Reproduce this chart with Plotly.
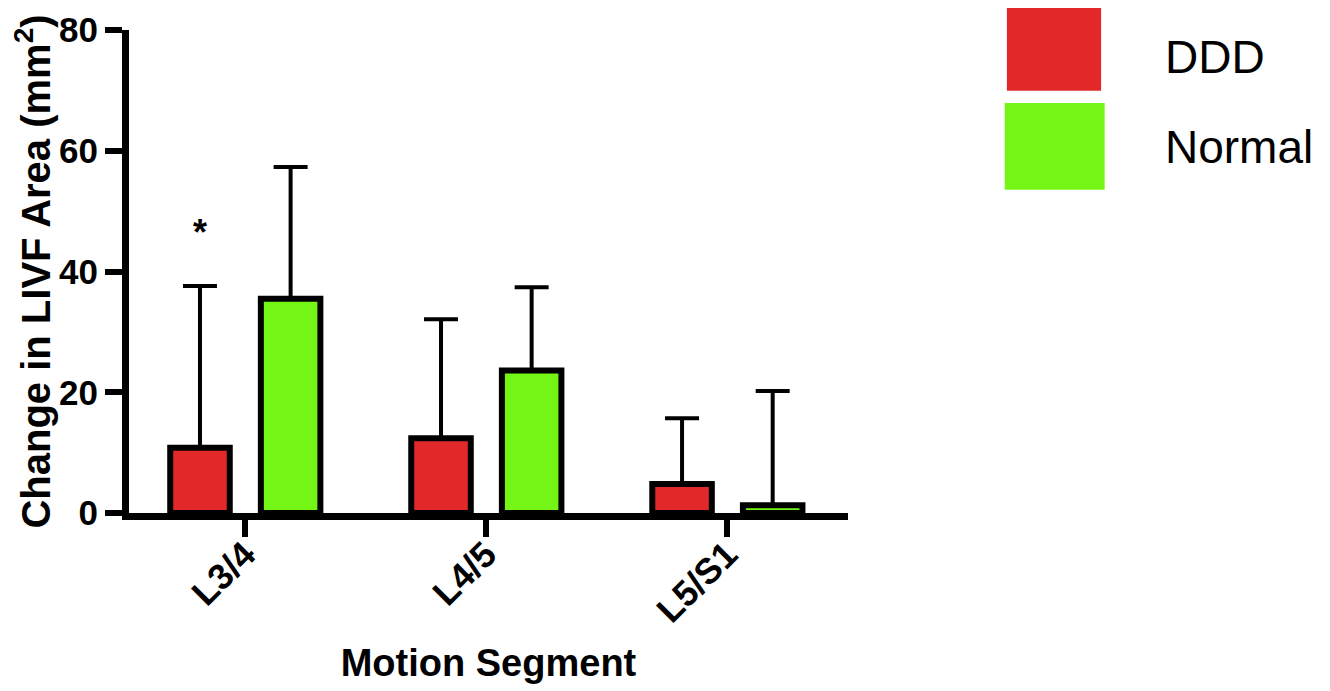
import plotly.graph_objects as go

categories = ["L3/4", "L4/5", "L5/S1"]
ddd_mean = [10.8, 12.4, 4.8]
ddd_err = [26.8, 19.7, 10.9]
normal_mean = [35.5, 23.6, 1.3]
normal_err = [21.8, 13.8, 18.9]
y_ticks = [0, 20, 40, 60, 80]

RED = "rgb(226,40,41)"
GREEN = "rgb(115,246,22)"
FONT = "Liberation Sans, Arial, sans-serif"

fig = go.Figure()
fig.add_trace(go.Bar(
    x=categories, y=ddd_mean, name="DDD",
    marker=dict(color=RED, line=dict(color="black", width=6)),
    width=0.247, offset=-0.31,
    error_y=dict(type="data", symmetric=False, array=ddd_err,
                 arrayminus=[0, 0, 0], color="black", thickness=4, width=17),
))
fig.add_trace(go.Bar(
    x=categories, y=normal_mean, name="Normal",
    marker=dict(color=GREEN, line=dict(color="black", width=6)),
    width=0.247, offset=0.066,
    error_y=dict(type="data", symmetric=False, array=normal_err,
                 arrayminus=[0, 0, 0], color="black", thickness=4, width=17),
))

fig.update_layout(
    width=1322, height=683,
    margin=dict(l=121, r=482, t=22, b=178, autoexpand=False),
    plot_bgcolor="white", paper_bgcolor="white",
    barmode="overlay", showlegend=False,
    font=dict(family=FONT, color="black"),
)
fig.update_xaxes(
    range=[-0.481, 2.502], showline=True, linecolor="black", linewidth=7,
    ticks="outside", ticklen=17, tickwidth=6, tickcolor="black",
    tickangle=-45, tickfont=dict(size=36, family=FONT, weight="bold"),
    ticklabelstandoff=-18,
    showgrid=False, zeroline=False, automargin=False,
    title=dict(text="<b>Motion Segment</b>", font=dict(size=38), standoff=22),
)
fig.update_yaxes(
    range=[0, 80], tickvals=y_ticks, showline=True, linecolor="black", linewidth=7,
    ticks="outside", ticklen=17, tickwidth=6, tickcolor="black",
    tickfont=dict(size=35, family=FONT, weight="bold"),
    showgrid=False, zeroline=False, automargin=False,
    title=dict(text="<b>Change in LIVF Area (mm<sup>2</sup>)</b>", font=dict(size=40), standoff=12),
)

# significance marker
fig.add_annotation(x=categories[0], y=46.5, text="<b>*</b>", showarrow=False,
                   xshift=-45, font=dict(size=36, family=FONT))

# legend drawn as shapes + text
fig.add_shape(type="rect", xref="paper", yref="paper", x0=1.221, x1=1.352, y0=0.874, y1=1.048,
              fillcolor=RED, line=dict(width=0))
fig.add_shape(type="rect", xref="paper", yref="paper", x0=1.218, x1=1.357, y0=0.669, y1=0.849,
              fillcolor=GREEN, line=dict(width=0))
fig.add_annotation(xref="paper", yref="paper", x=1.438, y=0.944, text="DDD", showarrow=False,
                   xanchor="left", yanchor="middle", font=dict(size=46, family=FONT))
fig.add_annotation(xref="paper", yref="paper", x=1.438, y=0.758, text="Normal", showarrow=False,
                   xanchor="left", yanchor="middle", font=dict(size=46, family=FONT))

fig.write_html("out.html")
